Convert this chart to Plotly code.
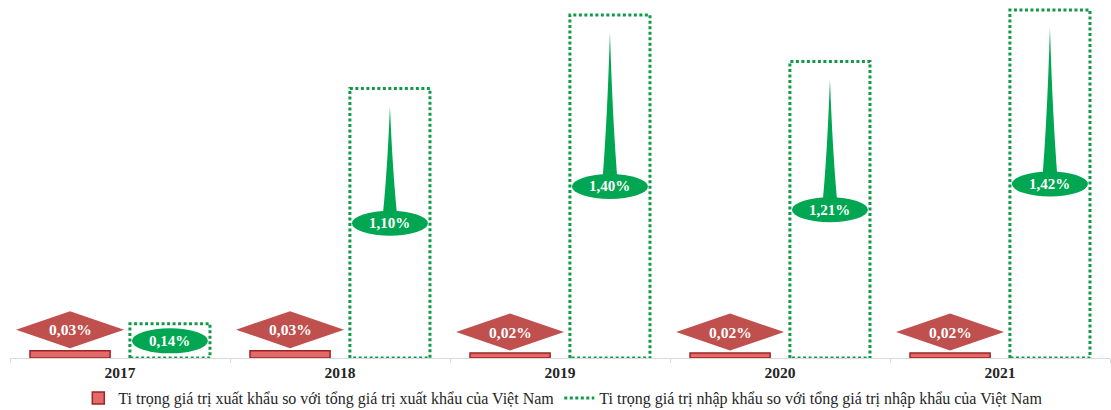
import plotly.graph_objects as go

years = ["2017", "2018", "2019", "2020", "2021"]
export_share = [0.03, 0.03, 0.02, 0.02, 0.02]
import_share = [0.14, 1.10, 1.40, 1.21, 1.42]
export_labels = ["0,03%", "0,03%", "0,02%", "0,02%", "0,02%"]
import_labels = ["0,14%", "1,10%", "1,40%", "1,21%", "1,42%"]
export_name = "Ti trọng giá trị xuất khẩu so với tổng giá trị xuất khẩu của Việt Nam"
import_name = "Ti trọng giá trị nhập khẩu so với tổng giá trị nhập khẩu của Việt Nam"

# ---- styling / geometry constants ----
W, H = 1111, 410
ML, MR, MT, MB = 10, 1, 0, 52
PLOT_W = W - ML - MR
PLOT_H = H - MT - MB
XR = [-0.5, len(years) - 0.5]
YMAX = 1.461
PX_X = PLOT_W / (XR[1] - XR[0])      # px per x unit
PX_Y = PLOT_H / YMAX                 # px per y unit

BAR_W = 0.364
RED_OFF = -0.409
GRN_OFF = 0.045

RED_FILL = "#E46A6A"
RED_LINE = "#9B2426"
DIAMOND = "#C0504D"
GREEN = "#00A651"
GREEN_DOT = "#109A48"
SERIF = "Liberation Serif, Times New Roman, serif"

idx = list(range(len(years)))

fig = go.Figure()

fig.add_trace(go.Bar(
    x=idx, y=export_share, width=BAR_W, offset=RED_OFF, name=export_name,
    marker=dict(color=RED_FILL, line=dict(color=RED_LINE, width=1.5)),
))
fig.add_trace(go.Bar(
    x=idx, y=import_share, width=BAR_W, offset=GRN_OFF, name=import_name,
    marker=dict(color="rgba(0,0,0,0)", line=dict(width=0)), showlegend=False,
))

# dotted outlines of the import bars
rx, ry = [], []
for i, v in zip(idx, import_share):
    x0, x1 = i + GRN_OFF, i + GRN_OFF + BAR_W
    rx += [x0, x0, x1, x1, x0, None]
    ry += [0, v, v, 0, 0, None]
fig.add_trace(go.Scatter(
    x=rx, y=ry, mode="lines", name=import_name,
    line=dict(color=GREEN_DOT, width=3, dash="3px,2.5px"),
    hoverinfo="skip",
))

shapes = []
annotations = []

# import labels: ellipse + spike callout
ell_w = 76 / PX_X
ell_h = 25 / PX_Y
spike_bw = 16 / PX_X
spike_gap = 18 / PX_Y
for i, v, t in zip(idx, import_share, import_labels):
    xc = i + GRN_OFF + BAR_W / 2
    yc = v / 2
    ytip = v - spike_gap
    if ytip > yc + ell_h:
        h = ytip - yc
        path = (f"M {xc - spike_bw/2},{yc} "
                f"Q {xc - spike_bw*0.18},{yc + 0.4*h} {xc},{ytip} "
                f"Q {xc + spike_bw*0.18},{yc + 0.4*h} {xc + spike_bw/2},{yc} Z")
        shapes.append(dict(type="path", path=path, xref="x", yref="y",
                           fillcolor=GREEN, line=dict(width=0), layer="above"))
    shapes.append(dict(type="circle", xref="x", yref="y",
                       x0=xc - ell_w/2, x1=xc + ell_w/2,
                       y0=yc - ell_h/2, y1=yc + ell_h/2,
                       fillcolor=GREEN, line=dict(width=0), layer="above"))
    annotations.append(dict(x=xc, y=yc, xref="x", yref="y", text=t, showarrow=False,
                            font=dict(family=SERIF, size=15, color="white", weight="bold")))

# export labels: diamonds
dia_w = 108 / PX_X
dia_h = 37 / PX_Y
dia_gap = 21 / PX_Y
for i, v, t in zip(idx, export_share, export_labels):
    xc = i + RED_OFF + BAR_W / 2
    yc = v + dia_gap
    path = (f"M {xc - dia_w/2},{yc} L {xc},{yc + dia_h/2} "
            f"L {xc + dia_w/2},{yc} L {xc},{yc - dia_h/2} Z")
    shapes.append(dict(type="path", path=path, xref="x", yref="y",
                       fillcolor=DIAMOND, line=dict(width=0), layer="above"))
    annotations.append(dict(x=xc, y=yc, xref="x", yref="y", text=t, showarrow=False,
                            font=dict(family=SERIF, size=15.5, color="white", weight="bold")))

fig.update_layout(
    width=W, height=H,
    margin=dict(l=ML, r=MR, t=MT, b=MB, autoexpand=False),
    paper_bgcolor="white", plot_bgcolor="white",
    barmode="overlay",
    shapes=shapes, annotations=annotations,
    showlegend=True,
    legend=dict(orientation="h", x=0.503, xanchor="center",
                yref="container", y=(H - 398) / H, yanchor="middle",
                bgcolor="rgba(0,0,0,0)",
                font=dict(family=SERIF, size=16, color="#262626"),
                itemwidth=30, traceorder="normal"),
    xaxis=dict(range=XR, tickmode="array", tickvals=idx, ticktext=years,
               showgrid=False, zeroline=False, showline=True, linecolor="#D9D9D9",
               linewidth=1, ticks="", ticklabelstandoff=0,
               minor=dict(ticks="outside", tick0=0.5, dtick=1, ticklen=4,
                          tickcolor="#D9D9D9", showgrid=False),
               tickfont=dict(family=SERIF, size=15.5, color="#262626", weight="bold"),
               fixedrange=True),
    yaxis=dict(range=[0, YMAX], visible=False, showgrid=False, fixedrange=True),
)

fig.write_html("out.html", config={"displayModeBar": False},
               post_script="document.body.style.margin='0';")
